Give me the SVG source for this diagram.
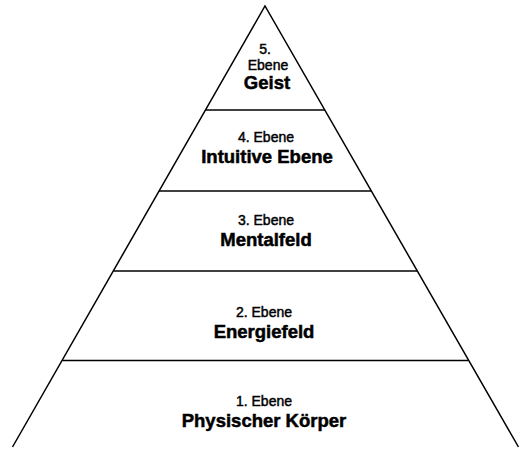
<svg xmlns="http://www.w3.org/2000/svg" width="528" height="449" viewBox="0 0 528 449">
<style>
.ln{stroke:#000;stroke-width:1.5;fill:none}
.s{font-family:"Liberation Sans",Arial,sans-serif;font-size:14px;text-anchor:middle;fill:#000;stroke:#000;stroke-width:0.45}
.b{font-family:"Liberation Sans",Arial,sans-serif;font-size:18.5px;font-weight:bold;text-anchor:middle;fill:#000;stroke:#000;stroke-width:0.5}
</style>
<rect width="528" height="449" fill="#fff"/>
<g id="connectors">
<path class="ln" d="M12.5,447 L265,6 L518.5,447"/>
<line class="ln" x1="205.5" y1="110" x2="324.5" y2="110"/>
<line class="ln" x1="159" y1="191" x2="371" y2="191"/>
<line class="ln" x1="113.5" y1="271" x2="417" y2="271"/>
<line class="ln" x1="62.5" y1="360.5" x2="468" y2="360.5"/>
</g>
<g id="level5">
<text class="s" x="265" y="54">5.</text>
<text class="s" x="268" y="70">Ebene</text>
<text class="b" x="267" y="89">Geist</text>
</g>
<g id="level4">
<text class="s" x="266" y="142">4. Ebene</text>
<text class="b" x="267" y="163">Intuitive Ebene</text>
</g>
<g id="level3">
<text class="s" x="266" y="225">3. Ebene</text>
<text class="b" x="266" y="246">Mentalfeld</text>
</g>
<g id="level2">
<text class="s" x="264" y="317">2. Ebene</text>
<text class="b" x="264" y="338">Energiefeld</text>
</g>
<g id="level1">
<text class="s" x="264" y="406">1. Ebene</text>
<text class="b" x="264" y="427">Physischer Körper</text>
</g>
</svg>
